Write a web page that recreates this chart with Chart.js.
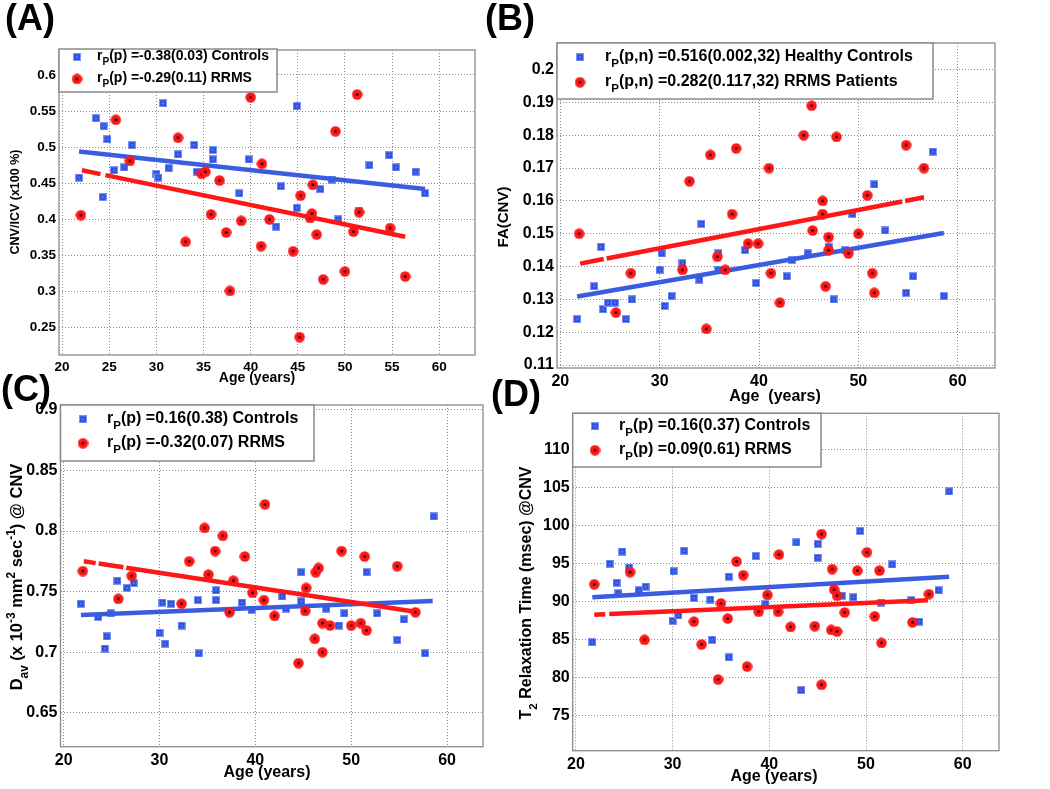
<!DOCTYPE html>
<html>
<head>
<meta charset="utf-8">
<script src="https://cdn.jsdelivr.net/npm/chart.js@4"></script>
<style>
  body { margin: 0; background: #fff; width: 1050px; height: 789px; position: relative; overflow: hidden; }
  canvas { position: absolute; }
</style>
</head>
<body>
<canvas id="chartA" width="500" height="392" style="left:0px;top:0px"></canvas>
<canvas id="chartB" width="570" height="410" style="left:480px;top:0px"></canvas>
<canvas id="chartC" width="500" height="429" style="left:0px;top:360px"></canvas>
<canvas id="chartD" width="570" height="419" style="left:480px;top:370px"></canvas>
<script>

/* =========================
   DADOS
========================= */

// (A) CNV/ICV
const ageA_hc = [21.8, 23.6, 24.4, 24.3, 24.8, 25.5, 26.6, 27.4, 30.0, 30.2, 30.7, 31.3, 32.3, 34.0, 34.3, 36.0, 36.0, 38.8, 39.8, 42.7, 43.2, 44.9, 44.9, 47.4, 48.6, 49.3, 51.5, 52.6, 54.7, 55.4, 57.5, 58.5];
const cnvA_hc = [0.458, 0.540, 0.529, 0.431, 0.511, 0.468, 0.472, 0.503, 0.463, 0.458, 0.561, 0.471, 0.490, 0.503, 0.466, 0.496, 0.483, 0.436, 0.483, 0.390, 0.446, 0.557, 0.416, 0.442, 0.455, 0.400, 0.411, 0.475, 0.489, 0.472, 0.466, 0.436];
const ageA_ms = [22.0, 25.7, 27.2, 32.3, 33.1, 34.8, 35.2, 35.8, 36.7, 37.4, 37.8, 39.0, 40.0, 41.1, 41.2, 42.0, 44.5, 45.2, 45.3, 46.3, 46.5, 46.6, 47.0, 47.7, 49.0, 50.0, 50.9, 51.3, 51.5, 54.8, 56.4];
const cnvA_ms = [0.406, 0.538, 0.481, 0.513, 0.369, 0.463, 0.466, 0.407, 0.454, 0.382, 0.301, 0.398, 0.569, 0.363, 0.477, 0.400, 0.356, 0.237, 0.433, 0.402, 0.408, 0.448, 0.379, 0.317, 0.522, 0.328, 0.383, 0.573, 0.410, 0.388, 0.321];
const fitA_hcAge = [21.8, 58.5];
const fitA_hc = [0.494, 0.442];
const fitA_msAge = [22.1, 56.4];
const fitA_ms = [0.468, 0.376];
const legendA = ["(p) =-0.38(0.03) Controls", "(p) =-0.29(0.11) RRMS"];
const ticksA_x = [20, 60, 5];
const ticksA_y = [0.25, 0.6, 0.05];

// (B) FA(CNV)
const ageB_hc = [21.7, 23.4, 24.1, 24.3, 24.8, 25.5, 26.6, 27.2, 30.0, 30.2, 30.5, 31.2, 32.3, 34.0, 34.2, 35.9, 35.9, 38.6, 39.7, 42.8, 43.3, 44.9, 47.0, 47.5, 48.7, 49.4, 51.6, 52.7, 54.8, 55.5, 57.5, 58.6];
const faB_hc = [0.124, 0.134, 0.146, 0.127, 0.129, 0.129, 0.124, 0.130, 0.139, 0.144, 0.128, 0.131, 0.141, 0.136, 0.153, 0.144, 0.139, 0.145, 0.135, 0.137, 0.142, 0.144, 0.146, 0.130, 0.145, 0.156, 0.165, 0.151, 0.132, 0.137, 0.175, 0.131];
const ageB_ms = [21.9, 25.6, 27.1, 32.3, 33.0, 34.7, 35.1, 35.8, 36.6, 37.3, 37.7, 38.9, 39.9, 41.0, 41.2, 42.1, 44.5, 45.3, 45.4, 46.4, 46.4, 46.7, 47.0, 47.0, 47.8, 49.0, 50.0, 50.9, 51.4, 51.6, 54.8, 56.6];
const faB_ms = [0.150, 0.126, 0.138, 0.139, 0.166, 0.121, 0.174, 0.143, 0.139, 0.156, 0.176, 0.147, 0.147, 0.170, 0.138, 0.129, 0.180, 0.189, 0.151, 0.160, 0.156, 0.134, 0.149, 0.145, 0.1795, 0.144, 0.150, 0.1617, 0.138, 0.132, 0.177, 0.170];
const fitB_hcAge = [21.7, 58.6];
const fitB_hc = [0.1309, 0.1502];
const fitB_msAge = [22.0, 56.6];
const fitB_ms = [0.1409, 0.1611];
const legendB = ["(p,n) =0.516(0.002,32) Healthy Controls", "(p,n) =0.282(0.117,32) RRMS Patients"];
const ticksB_x = [20, 60, 10];
const ticksB_y = [0.11, 0.2, 0.01];

// (C) Dav
const ageC_hc = [21.8, 23.6, 24.5, 24.3, 24.9, 25.6, 26.6, 27.3, 30.0, 30.3, 30.6, 31.2, 32.3, 34.0, 34.1, 35.9, 35.9, 38.6, 39.6, 42.8, 43.2, 44.8, 44.8, 47.4, 48.7, 49.3, 51.6, 52.7, 54.8, 55.5, 57.7, 58.6];
const davC_hc = [0.740, 0.729, 0.713, 0.703, 0.732, 0.759, 0.753, 0.757, 0.716, 0.741, 0.707, 0.740, 0.722, 0.743, 0.699, 0.751, 0.743, 0.741, 0.735, 0.746, 0.736, 0.766, 0.742, 0.736, 0.722, 0.732, 0.766, 0.732, 0.710, 0.727, 0.699, 0.812];
const ageC_ms = [22.0, 25.7, 27.1, 32.3, 33.1, 34.7, 35.1, 35.8, 36.6, 37.3, 37.7, 38.9, 39.7, 40.9, 41.0, 42.0, 44.5, 45.2, 45.3, 46.2, 46.3, 46.6, 47.0, 47.0, 47.8, 49.0, 50.0, 51.0, 51.4, 51.6, 54.8, 56.7];
const davC_ms = [0.767, 0.744, 0.763, 0.740, 0.775, 0.8025, 0.764, 0.7835, 0.796, 0.733, 0.759, 0.779, 0.749, 0.743, 0.822, 0.730, 0.691, 0.734, 0.753, 0.711, 0.766, 0.7695, 0.700, 0.724, 0.722, 0.7835, 0.722, 0.724, 0.779, 0.718, 0.771, 0.733];
const fitC_hcAge = [21.8, 58.5];
const fitC_hc = [0.7307, 0.7422];
const fitC_msAge = [22.1, 56.7];
const fitC_ms = [0.775, 0.7334];
const legendC = ["(p) =0.16(0.38) Controls", "(p) =-0.32(0.07) RRMS"];
const ticksC_x = [20, 60, 10];
const ticksC_y = [0.65, 0.9, 0.05];

// (D) T2
const ageD_hc = [21.7, 23.5, 24.2, 24.4, 24.8, 25.5, 26.5, 27.2, 30.0, 30.1, 30.6, 31.2, 32.2, 33.9, 34.1, 35.8, 35.8, 38.6, 39.6, 42.8, 43.3, 45.0, 45.0, 47.5, 48.7, 49.4, 51.6, 52.7, 54.7, 55.5, 57.5, 58.6];
const t2D_hc = [84.7, 95.0, 92.5, 91.1, 96.6, 94.5, 91.5, 92.0, 87.5, 94.0, 88.2, 96.7, 90.5, 90.3, 85.0, 93.3, 82.7, 96.0, 89.7, 97.8, 78.4, 97.6, 95.8, 90.8, 90.6, 99.3, 89.9, 94.9, 90.2, 87.4, 91.5, 104.5];
const ageD_ms = [21.9, 25.6, 27.1, 32.2, 33.0, 34.7, 35.0, 35.7, 36.6, 37.3, 37.7, 38.9, 39.8, 40.9, 41.0, 42.2, 44.7, 45.4, 45.4, 46.4, 46.5, 46.7, 47.0, 47.0, 47.8, 49.1, 50.1, 50.9, 51.4, 51.6, 54.8, 56.5];
const t2D_ms = [92.3, 93.9, 85.0, 87.4, 84.4, 79.8, 89.8, 87.8, 95.3, 93.5, 81.5, 88.7, 90.9, 88.7, 96.2, 86.7, 86.8, 98.9, 79.1, 86.3, 94.3, 91.6, 90.8, 86.1, 88.6, 94.1, 96.5, 88.1, 94.1, 84.6, 87.3, 91.0];
const fitD_hcAge = [21.7, 58.6];
const fitD_hc = [90.6, 93.3];
const fitD_msAge = [21.9, 56.4];
const fitD_ms = [88.3, 90.2];
const legendD = ["(p) =0.16(0.37) Controls", "(p) =0.09(0.61) RRMS"];
const ticksD_x = [20, 60, 10];
const ticksD_y = [75, 110, 5];


/* =========================
   ESTILO
========================= */

const FONT = '"Liberation Sans", Arial, Helvetica, sans-serif';
const BLUE = "#3a5cdf";
const RED = "#ff1616";
const GRID = "#8c8c8c";
const FRAME = "#8a8a8a";

Chart.defaults.font.family = FONT;
Chart.defaults.font.weight = "bold";
Chart.defaults.color = "#000";

function makeSquare() {
    const c = document.createElement("canvas");
    c.width = 8; c.height = 8;
    const g = c.getContext("2d");
    g.fillStyle = "#7a94f2";
    g.fillRect(0, 0, 8, 8);
    g.fillStyle = "#2f52e2";
    g.fillRect(1, 1, 6, 6);
    g.fillStyle = "#c9d5ff";
    g.fillRect(3.5, 3.5, 1, 1);
    return c;
}

function makeDot() {
    const c = document.createElement("canvas");
    c.width = 11; c.height = 11;
    const g = c.getContext("2d");
    g.fillStyle = RED;
    g.beginPath(); g.arc(5.5, 5.5, 5.2, 0, Math.PI * 2); g.fill();
    g.fillStyle = "#000";
    g.beginPath(); g.arc(5.5, 5.5, 1.3, 0, Math.PI * 2); g.fill();
    return c;
}

const blueSq = makeSquare();
const redDot = makeDot();

function pts(xs, ys) {
    return xs.map((x, i) => ({ x, y: ys[i] }));
}

// texto com sub/sobrescrito: [texto, "sub"|"sup"|undefined]
function richWidth(ctx, runs, size) {
    let w = 0;
    runs.forEach(r => {
        ctx.font = "bold " + (r[1] ? size * 0.72 : size) + "px " + FONT;
        w += ctx.measureText(r[0]).width;
    });
    return w;
}

function drawRich(ctx, runs, x, y, size, center) {
    let cx = center ? x - richWidth(ctx, runs, size) / 2 : x;
    ctx.textAlign = "left";
    ctx.textBaseline = "alphabetic";
    ctx.fillStyle = "#000";
    runs.forEach(r => {
        const s = r[1] ? size * 0.72 : size;
        const dy = r[1] === "sub" ? size * 0.36 : r[1] === "sup" ? -size * 0.45 : 0;
        ctx.font = "bold " + s + "px " + FONT;
        ctx.fillText(r[0], cx, y + dy);
        cx += ctx.measureText(r[0]).width;
    });
}


/* =========================
   PAINEIS
========================= */

const panels = [
    {
        id: "chartA", off: [0, 0],
        area: { left: 59, top: 50, right: 475, bottom: 355 },
        xr: [19.67, 63.8], yr: [0.2122, 0.6346], xt: ticksA_x, yt: ticksA_y, tickSize: 13.5,
        hc: pts(ageA_hc, cnvA_hc), ms: pts(ageA_ms, cnvA_ms),
        hcFit: pts(fitA_hcAge, fitA_hc), msFit: pts(fitA_msAge, fitA_ms), dash: [19, 5, 2000],
        legend: legendA, box: [59, 49, 277, 92], markX: 77, rows: [60, 82], textX: 97, legSize: 14,
        label: ["(A)", 5, 30],
        yTitle: { runs: [["CNV/ICV (x100 %)"]], x: 14, y: 202, size: 12.5 },
        xTitle: { runs: [["Age (years)"]], x: 257, y: 382, size: 14 }
    },
    {
        id: "chartB", off: [480, 0],
        area: { left: 557, top: 43, right: 995, bottom: 368 },
        xr: [19.67, 63.75], yr: [0.1091, 0.2081], xt: ticksB_x, yt: ticksB_y, tickSize: 16,
        hc: pts(ageB_hc, faB_hc), ms: pts(ageB_ms, faB_ms),
        hcFit: pts(fitB_hcAge, fitB_hc), msFit: pts(fitB_msAge, fitB_ms), dash: [24, 3, 301, 3, 1000],
        legend: legendB, box: [557, 43, 933, 99], markX: 580, rows: [61, 86], textX: 605, legSize: 16,
        label: ["(B)", 485, 30],
        yTitle: { runs: [["FA(CNV)"]], x: 503, y: 217, size: 15 },
        xTitle: { runs: [["Age  (years)"]], x: 775, y: 401, size: 16 }
    },
    {
        id: "chartC", off: [0, 360],
        area: { left: 60.5, top: 405, right: 483, bottom: 746.7 },
        xr: [19.67, 63.75], yr: [0.622, 0.904], xt: ticksC_x, yt: ticksC_y, tickSize: 16,
        hc: pts(ageC_hc, davC_hc), ms: pts(ageC_ms, davC_ms),
        hcFit: pts(fitC_hcAge, fitC_hc), msFit: pts(fitC_msAge, fitC_ms), dash: [12, 3, 25, 3, 2000],
        legend: legendC, box: [60.5, 405, 314, 461], markX: 83, rows: [423, 447], textX: 107, legSize: 16,
        label: ["(C)", 1, 401],
        yTitle: {
            runs: [["D"], ["av", "sub"], [" (x 10"], ["-3", "sup"], [" mm"], ["2", "sup"], [" sec"], ["-1", "sup"], [") @ CNV"]],
            x: 16, y: 577, size: 16.5
        },
        xTitle: { runs: [["Age (years)"]], x: 267, y: 777, size: 16 }
    },
    {
        id: "chartD", off: [480, 370],
        area: { left: 572.7, top: 413.3, right: 999, bottom: 750.7 },
        xr: [19.67, 63.75], yr: [70.44, 114.76], xt: ticksD_x, yt: ticksD_y, tickSize: 16,
        hc: pts(ageD_hc, t2D_hc), ms: pts(ageD_ms, t2D_ms),
        hcFit: pts(fitD_hcAge, fitD_hc), msFit: pts(fitD_msAge, fitD_ms), dash: [11, 4, 2000],
        legend: legendD, box: [572.7, 413.3, 821, 467], markX: 595, rows: [430, 454], textX: 619, legSize: 16,
        label: ["(D)", 491, 406],
        yTitle: { runs: [["T"], ["2", "sub"], [" Relaxation Time (msec) @CNV"]], x: 525, y: 593, size: 16 },
        xTitle: { runs: [["Age (years)"]], x: 774, y: 781, size: 16 }
    }
];


/* =========================
   PLUGINS
========================= */

const framePlugin = {
    id: "frame",
    afterDatasetsDraw(chart) {
        const a = chart.chartArea;
        const ctx = chart.ctx;
        ctx.save();
        ctx.strokeStyle = FRAME;
        ctx.lineWidth = 1.3;
        ctx.strokeRect(a.left, a.top, a.right - a.left, a.bottom - a.top);
        ctx.restore();
    }
};

const textPlugin = {
    id: "panelText",
    afterDraw(chart) {
        const p = chart.options.plugins.panelText.panel;
        const ctx = chart.ctx;
        ctx.save();
        ctx.translate(-p.off[0], -p.off[1]);

        // legenda
        const b = p.box;
        ctx.fillStyle = "#fff";
        ctx.fillRect(b[0], b[1], b[2] - b[0], b[3] - b[1]);
        ctx.strokeStyle = FRAME;
        ctx.lineWidth = 1.5;
        ctx.strokeRect(b[0], b[1], b[2] - b[0], b[3] - b[1]);

        const marks = [blueSq, redDot];
        p.legend.forEach((txt, i) => {
            const m = marks[i];
            const cy = p.rows[i] - p.legSize * 0.36;
            ctx.drawImage(m, p.markX - m.width / 2, cy - m.height / 2 + 2);
            drawRich(ctx, [["r"], ["P", "sub"], [txt]], p.textX, p.rows[i], p.legSize, false);
        });

        // rótulo do painel
        ctx.fillStyle = "#000";
        ctx.font = "bold 36px " + FONT;
        ctx.textAlign = "left";
        ctx.textBaseline = "alphabetic";
        ctx.fillText(p.label[0], p.label[1], p.label[2]);

        // títulos dos eixos
        const xt = p.xTitle;
        drawRich(ctx, xt.runs, xt.x, xt.y, xt.size, true);

        const yt = p.yTitle;
        ctx.save();
        ctx.translate(yt.x, yt.y);
        ctx.rotate(-Math.PI / 2);
        drawRich(ctx, yt.runs, 0, yt.size * 0.36, yt.size, true);
        ctx.restore();

        ctx.restore();
    }
};


/* =========================
   CRIAR GRÁFICOS
========================= */

function makePanel(p) {

    const canvas = document.getElementById(p.id);
    const W = canvas.width;
    const H = canvas.height;
    const area = {
        left: p.area.left - p.off[0],
        top: p.area.top - p.off[1],
        right: p.area.right - p.off[0],
        bottom: p.area.bottom - p.off[1]
    };

    const fmt = v => String(+v.toFixed(3));

    new Chart(canvas, {
        type: "scatter",
        data: {
            datasets: [
                { data: p.ms, pointStyle: redDot, pointRadius: 5, order: 1 },
                {
                    data: p.msFit, showLine: true, borderColor: RED, borderWidth: 4.5,
                    borderDash: p.dash, borderCapStyle: "butt", pointRadius: 0, order: 2
                },
                {
                    data: p.hcFit, showLine: true, borderColor: BLUE, borderWidth: 4.5,
                    borderCapStyle: "butt", pointRadius: 0, order: 3
                },
                { data: p.hc, pointStyle: blueSq, pointRadius: 4, order: 4 }
            ]
        },
        options: {
            responsive: false,
            animation: false,
            events: [],
            layout: {
                padding: { left: 0, top: area.top, right: W - area.right, bottom: 0 }
            },
            plugins: {
                legend: { display: false },
                tooltip: { enabled: false },
                panelText: { panel: p }
            },
            scales: {
                x: {
                    type: "linear",
                    min: p.xr[0],
                    max: p.xr[1],
                    afterFit: s => { s.height = H - area.bottom; },
                    ticks: {
                        stepSize: p.xt[2],
                        includeBounds: false,
                        autoSkip: false,
                        maxRotation: 0,
                        padding: 4,
                        color: "#000",
                        font: { size: p.tickSize, weight: "bold" },
                        callback: fmt
                    },
                    grid: { color: GRID, lineWidth: 1, drawTicks: false },
                    border: { display: false, dash: [1, 2] }
                },
                y: {
                    type: "linear",
                    min: p.yr[0],
                    max: p.yr[1],
                    afterFit: s => { s.width = area.left; },
                    ticks: {
                        stepSize: p.yt[2],
                        includeBounds: false,
                        autoSkip: false,
                        padding: 3,
                        color: "#000",
                        font: { size: p.tickSize, weight: "bold" },
                        callback: fmt
                    },
                    grid: { color: GRID, lineWidth: 1, drawTicks: false },
                    border: { display: false, dash: [1, 2] }
                }
            }
        },
        plugins: [framePlugin, textPlugin]
    });

}

panels.forEach(makePanel);

</script>
</body>
</html>
